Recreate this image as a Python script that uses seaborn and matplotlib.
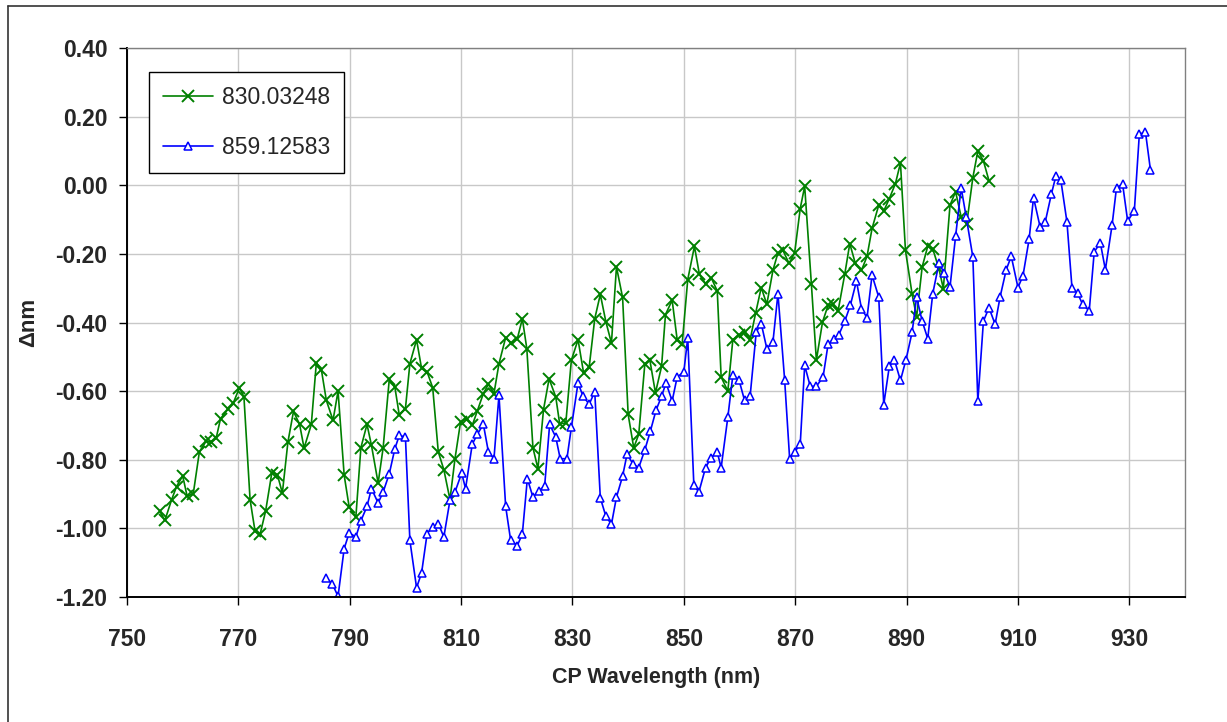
import matplotlib
matplotlib.use("Agg")
import matplotlib.pyplot as plt
import seaborn as sns
import numpy as np
from matplotlib.lines import Line2D

# data
green_x = [755.9, 756.8, 758.0, 758.9, 760.0, 760.8, 761.9, 763.0, 764.2, 765.0,
           766.0, 766.8, 768.2, 769.1, 770.2, 771.0, 772.1, 773.0, 773.9, 774.9,
           776.0, 777.0, 777.9, 778.9, 779.9, 781.0, 781.8, 783.1, 784.0, 784.9,
           785.8, 787.0, 787.9, 789.0, 789.9, 791.1, 792.0, 793.1, 793.9, 795.1,
           796.0, 797.1, 798.1, 798.9, 800.0, 800.8, 802.0, 802.9, 803.9, 804.9,
           805.9, 806.9, 808.0, 808.9, 809.9, 811.0, 812.0, 812.9, 814.0, 814.9,
           815.9, 816.8, 818.0, 819.0, 820.1, 821.0, 821.8, 822.9, 823.8, 824.8,
           825.8, 827.0, 827.7, 828.8, 829.8, 831.0, 832.0, 833.0, 834.0, 835.0,
           836.0, 837.0, 837.9, 839.0, 840.0, 841.0, 841.9, 843.0, 843.9, 844.9,
           846.0, 846.7, 847.9, 848.8, 849.7, 850.7, 851.9, 852.8, 853.9, 854.9,
           856.0, 856.7, 857.9, 858.8, 859.9, 860.9, 861.9, 862.9, 863.9, 864.9,
           866.0, 866.9, 867.8, 868.9, 869.9, 870.9, 871.7, 872.9, 873.8, 874.9,
           875.9, 876.7, 877.7, 878.9, 879.8, 880.8, 881.9, 882.9, 883.8, 885.0,
           885.9, 886.9, 888.0, 888.9, 889.8, 891.0, 891.8, 892.8, 893.8, 894.7,
           895.8, 896.6, 897.8, 898.8, 899.8, 900.8, 901.9, 902.8, 903.8, 904.8]
green_y = [-0.950, -0.977, -0.917, -0.878, -0.847, -0.906, -0.899, -0.777, -0.746, -0.748,
           -0.738, -0.680, -0.651, -0.634, -0.590, -0.617, -0.916, -1.009, -1.017, -0.949,
           -0.839, -0.843, -0.897, -0.748, -0.659, -0.697, -0.766, -0.697, -0.518, -0.537,
           -0.627, -0.685, -0.600, -0.845, -0.938, -0.967, -0.765, -0.697, -0.758, -0.868,
           -0.765, -0.566, -0.588, -0.670, -0.651, -0.520, -0.450, -0.534, -0.544, -0.590,
           -0.777, -0.829, -0.916, -0.797, -0.690, -0.680, -0.700, -0.658, -0.607, -0.580,
           -0.607, -0.520, -0.444, -0.460, -0.447, -0.389, -0.476, -0.765, -0.826, -0.654,
           -0.564, -0.617, -0.695, -0.693, -0.510, -0.450, -0.547, -0.530, -0.389, -0.318,
           -0.398, -0.460, -0.238, -0.327, -0.668, -0.765, -0.726, -0.520, -0.510, -0.605,
           -0.528, -0.377, -0.335, -0.450, -0.462, -0.275, -0.178, -0.260, -0.287, -0.269,
           -0.308, -0.559, -0.600, -0.450, -0.437, -0.428, -0.450, -0.372, -0.298, -0.347,
           -0.248, -0.197, -0.190, -0.228, -0.197, -0.068, -0.003, -0.287, -0.510, -0.399,
           -0.350, -0.347, -0.366, -0.259, -0.170, -0.228, -0.248, -0.207, -0.126, -0.058,
           -0.075, -0.039, 0.005, 0.065, -0.190, -0.318, -0.384, -0.238, -0.178, -0.185,
           -0.243, -0.301, -0.058, -0.019, -0.092, -0.112, 0.022, 0.100, 0.071, 0.013]

blue_x = [785.8, 786.9, 787.9, 789.0, 789.9, 791.1, 792.0, 793.1, 793.9, 795.1,
          796.0, 797.1, 798.1, 798.9, 800.0, 800.8, 802.0, 802.9, 803.9, 804.9,
          805.9, 806.9, 808.0, 808.9, 810.1, 810.8, 812.0, 812.9, 814.0, 814.9,
          815.9, 816.8, 818.0, 818.9, 820.1, 821.0, 821.9, 822.9, 823.9, 825.0,
          825.9, 827.0, 827.8, 829.0, 829.8, 831.0, 831.9, 833.0, 834.0, 835.0,
          836.0, 837.0, 837.9, 839.0, 839.8, 840.9, 841.9, 843.0, 844.0, 845.0,
          846.0, 846.8, 847.9, 848.8, 850.0, 850.7, 851.8, 852.7, 853.9, 854.9,
          856.0, 856.7, 857.9, 858.8, 859.9, 860.9, 861.9, 863.0, 863.9, 864.9,
          866.0, 866.9, 868.1, 869.0, 869.9, 870.9, 871.7, 872.7, 873.8, 875.0,
          875.9, 876.9, 877.8, 878.9, 879.9, 881.0, 881.9, 882.9, 883.8, 885.0,
          885.9, 886.9, 887.8, 888.9, 889.9, 891.0, 891.8, 892.8, 893.8, 894.7,
          895.8, 896.8, 897.8, 898.8, 899.8, 900.7, 901.9, 902.8, 903.8, 904.8,
          905.9, 906.8, 907.9, 908.8, 910.0, 910.9, 912.0, 912.8, 914.0, 914.9,
          916.0, 916.8, 917.7, 918.8, 919.7, 920.7, 921.6, 922.8, 923.7, 924.8,
          925.7, 926.9, 927.7, 928.8, 929.7, 930.9, 931.8, 932.9, 933.8]
blue_y = [-1.144, -1.163, -1.198, -1.059, -1.013, -1.025, -0.978, -0.936, -0.884, -0.926,
          -0.894, -0.841, -0.768, -0.729, -0.734, -1.035, -1.173, -1.130, -1.015, -0.996,
          -0.986, -1.025, -0.918, -0.894, -0.839, -0.884, -0.755, -0.726, -0.697, -0.777,
          -0.797, -0.612, -0.936, -1.035, -1.050, -1.016, -0.855, -0.909, -0.891, -0.877,
          -0.697, -0.734, -0.797, -0.797, -0.706, -0.576, -0.615, -0.638, -0.602, -0.911,
          -0.965, -0.988, -0.909, -0.848, -0.784, -0.813, -0.823, -0.771, -0.716, -0.656,
          -0.615, -0.576, -0.629, -0.559, -0.544, -0.444, -0.875, -0.894, -0.823, -0.794,
          -0.778, -0.823, -0.676, -0.554, -0.567, -0.627, -0.615, -0.428, -0.403, -0.476,
          -0.457, -0.316, -0.567, -0.797, -0.777, -0.755, -0.525, -0.586, -0.586, -0.559,
          -0.464, -0.447, -0.437, -0.396, -0.350, -0.279, -0.360, -0.386, -0.262, -0.326,
          -0.639, -0.528, -0.508, -0.569, -0.508, -0.428, -0.326, -0.396, -0.447, -0.316,
          -0.228, -0.256, -0.296, -0.149, -0.007, -0.092, -0.209, -0.629, -0.396, -0.357,
          -0.405, -0.325, -0.246, -0.207, -0.298, -0.264, -0.158, -0.036, -0.123, -0.107,
          -0.026, 0.026, 0.015, -0.107, -0.298, -0.314, -0.347, -0.366, -0.194, -0.168,
          -0.246, -0.117, -0.007, 0.003, -0.104, -0.075, 0.149, 0.155, 0.044]

labels = ["830.03248", "859.12583"]
x_ticks = [750, 770, 790, 810, 830, 850, 870, 890, 910, 930]
y_ticks = [-1.2, -1.0, -0.8, -0.6, -0.4, -0.2, 0.0, 0.2, 0.4]

sns.set_style("white")
plt.rcParams["font.family"] = ["Liberation Sans", "DejaVu Sans"]
plt.rcParams["axes.unicode_minus"] = False

fig = plt.figure(figsize=(12.27, 7.22), dpi=100)
ax = fig.add_axes([127 / 1227, 125 / 722, 1058 / 1227, 549 / 722])

sns.lineplot(x=green_x, y=green_y, ax=ax, color="#008000", linewidth=1.2,
             marker="x", markersize=8, markeredgecolor="#008000",
             markeredgewidth=1.4, sort=False, estimator=None, label=labels[0])
sns.lineplot(x=blue_x, y=blue_y, ax=ax, color="#0000FF", linewidth=1.2,
             marker="^", markersize=5.5, markerfacecolor="white",
             markeredgecolor="#0000FF", markeredgewidth=1.1, sort=False,
             estimator=None, label=labels[1])

ax.set_xlim(750, 940)
ax.set_ylim(-1.2, 0.4)
ax.set_xticks(x_ticks)
ax.set_yticks(y_ticks)
ax.set_yticklabels([f"{v:.2f}" for v in y_ticks])
ax.grid(True, color="#c8c8c8", linewidth=1)
ax.set_axisbelow(True)

for side in ["top", "right"]:
    ax.spines[side].set_color("#808080")
    ax.spines[side].set_linewidth(1)
for side in ["left", "bottom"]:
    ax.spines[side].set_color("black")
    ax.spines[side].set_linewidth(1.4)

ax.tick_params(axis="both", direction="out", length=6, width=1, color="black",
               labelsize=16.5, bottom=True, left=True)
ax.tick_params(axis="x", pad=16)
ax.tick_params(axis="y", pad=8)
for t in ax.get_xticklabels() + ax.get_yticklabels():
    t.set_fontweight("bold")

ax.set_xlabel("CP Wavelength (nm)", fontsize=15.5, fontweight="bold", labelpad=12)
ax.set_ylabel("Δnm", fontsize=16, fontweight="bold", labelpad=12)

leg = ax.legend(loc="upper left", bbox_to_anchor=(0.0208, 0.956), fontsize=16.5,
                frameon=True, fancybox=False, edgecolor="black", framealpha=1,
                borderpad=0.6, labelspacing=1.2, handlelength=2.2,
                handletextpad=0.4, borderaxespad=0)
leg.get_frame().set_linewidth(1)

# outer chart border
fig.add_artist(Line2D([8 / 1227, 8 / 1227], [0, 1 - 6 / 722], color="#333333",
                      linewidth=1.2, transform=fig.transFigure))
fig.add_artist(Line2D([8 / 1227, 1], [1 - 6 / 722, 1 - 6 / 722], color="#333333",
                      linewidth=1.2, transform=fig.transFigure))

fig.savefig("out.png", dpi=100)
